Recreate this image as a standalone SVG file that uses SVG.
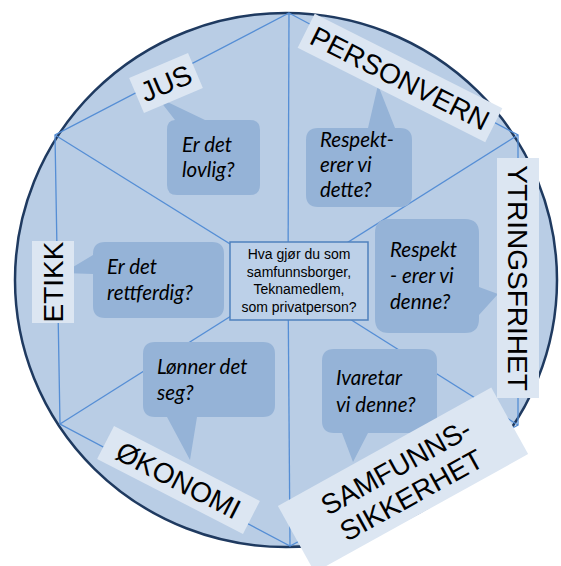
<svg xmlns="http://www.w3.org/2000/svg" width="561" height="566" viewBox="0 0 561 566">
<style>
.spoke{stroke:#558ed5;stroke-width:1.3;fill:none}
.bubble{fill:#95b3d7;stroke:none}
.btxt{font-family:Lato,"Open Sans",sans-serif;font-style:italic;font-size:20.5px;fill:#000}
.lbox{fill:#dce6f2;stroke:none}
.ltxt{font-family:"Liberation Sans",Arial,sans-serif;font-size:28px;fill:#000;text-anchor:middle}
.ctxt{font-family:"Liberation Sans",Arial,sans-serif;font-size:14px;fill:#000;text-anchor:middle}
</style>
<rect width="561" height="566" fill="#fff"/>
<ellipse id="circle" cx="286" cy="280" rx="271" ry="267" fill="#b9cde5" stroke="#1f3a60" stroke-width="2.5"/>
<g id="connectors">
<line class="spoke" x1="288" y1="280" x2="289" y2="13"/>
<line class="spoke" x1="288" y1="280" x2="518" y2="135"/>
<line class="spoke" x1="288" y1="280" x2="518" y2="425"/>
<line class="spoke" x1="288" y1="280" x2="290" y2="546"/>
<line class="spoke" x1="288" y1="280" x2="60" y2="424"/>
<line class="spoke" x1="288" y1="280" x2="55" y2="135"/>
<polygon class="spoke" points="289,13 518,135 518,425 290,546 60,424 55,135"/>
</g>
<g id="center">
<rect x="230" y="242" width="138" height="78" fill="#bcd0e8" stroke="#4f81bd" stroke-width="1.5"/>
<text class="ctxt" x="299" y="259">Hva gjør du som</text>
<text class="ctxt" x="299" y="277">samfunnsborger,</text>
<text class="ctxt" x="299" y="294">Teknamedlem,</text>
<text class="ctxt" x="299" y="312">som privatperson?</text>
</g>
<g id="q-jus">
<path class="bubble" d="M157,97 L205,120 L250,120 Q260,120 260,130 L260,185 Q260,195 250,195 L177,195 Q167,195 167,185 L167,130 Q167,120 175,120 Z"/>
<text class="btxt" x="182" y="152">Er det</text>
<text class="btxt" x="182" y="177">lovlig?</text>
</g>
<g id="q-personvern">
<path class="bubble" d="M378,85 L395,128 L400,128 Q412,128 412,140 L412,195 Q412,207 400,207 L318,207 Q306,207 306,195 L306,140 Q306,128 318,128 L368,128 Z"/>
<text class="btxt" x="320" y="147">Respekt-</text>
<text class="btxt" x="320" y="172">erer vi</text>
<text class="btxt" x="320" y="197">dette?</text>
</g>
<g id="q-ytring">
<path class="bubble" d="M389,219 L465,219 Q479,219 479,233 L479,287 L498,294 L479,315 L479,319 Q479,333 465,333 L389,333 Q375,333 375,319 L375,233 Q375,219 389,219 Z"/>
<text class="btxt" x="390" y="257">Respekt</text>
<text class="btxt" x="390" y="283">- erer vi</text>
<text class="btxt" x="390" y="309">denne?</text>
</g>
<g id="q-etikk">
<path class="bubble" d="M105,242 L212,242 Q224,242 224,254 L224,306 Q224,318 212,318 L105,318 Q93,318 93,306 L93,274 L63,273 L93,255 L93,254 Q93,242 105,242 Z"/>
<text class="btxt" x="107" y="274">Er det</text>
<text class="btxt" x="107" y="300">rettferdig?</text>
</g>
<g id="q-okonomi">
<path class="bubble" d="M155,342 L263,342 Q275,342 275,354 L275,405 Q275,417 263,417 L197,417 L190,460 L167,417 L155,417 Q143,417 143,405 L143,354 Q143,342 155,342 Z"/>
<text class="btxt" x="157" y="374">Lønner det</text>
<text class="btxt" x="157" y="400">seg?</text>
</g>
<g id="q-samfunn">
<path class="bubble" d="M334,349 L425,349 Q437,349 437,361 L437,421 Q437,433 425,433 L368,433 L353,462 L342,433 L334,433 Q322,433 322,421 L322,361 Q322,349 334,349 Z"/>
<text class="btxt" x="336" y="385">Ivaretar</text>
<text class="btxt" x="336" y="412">vi denne?</text>
</g>
<g id="l-jus" transform="translate(166,83) rotate(-23)">
<rect class="lbox" x="-32" y="-19" width="64" height="38"/>
<text class="ltxt" x="0" y="10">JUS</text>
</g>
<g id="l-personvern" transform="translate(400,78) rotate(26.7)">
<rect class="lbox" x="-105" y="-19" width="210" height="38"/>
<text class="ltxt" x="0" y="10">PERSONVERN</text>
</g>
<g id="l-ytring" transform="translate(518,278) rotate(90)">
<rect class="lbox" x="-120" y="-21" width="240" height="42"/>
<text class="ltxt" x="0" y="10">YTRINGSFRIHET</text>
</g>
<g id="l-etikk" transform="translate(53,282) rotate(-90)">
<rect class="lbox" x="-41" y="-21" width="82" height="42"/>
<text class="ltxt" x="0" y="10">ETIKK</text>
</g>
<g id="l-okonomi" transform="translate(178.5,480) rotate(27.2)">
<rect class="lbox" x="-82" y="-18.5" width="164" height="37"/>
<text class="ltxt" x="0" y="10">ØKONOMI</text>
</g>
<g id="l-samfunn" transform="translate(403,480) rotate(-29)">
<rect class="lbox" x="-122" y="-38" width="244" height="76"/>
<text class="ltxt" x="0" y="-5">SAMFUNNS-</text>
<text class="ltxt" x="0" y="27">SIKKERHET</text>
</g>
</svg>
